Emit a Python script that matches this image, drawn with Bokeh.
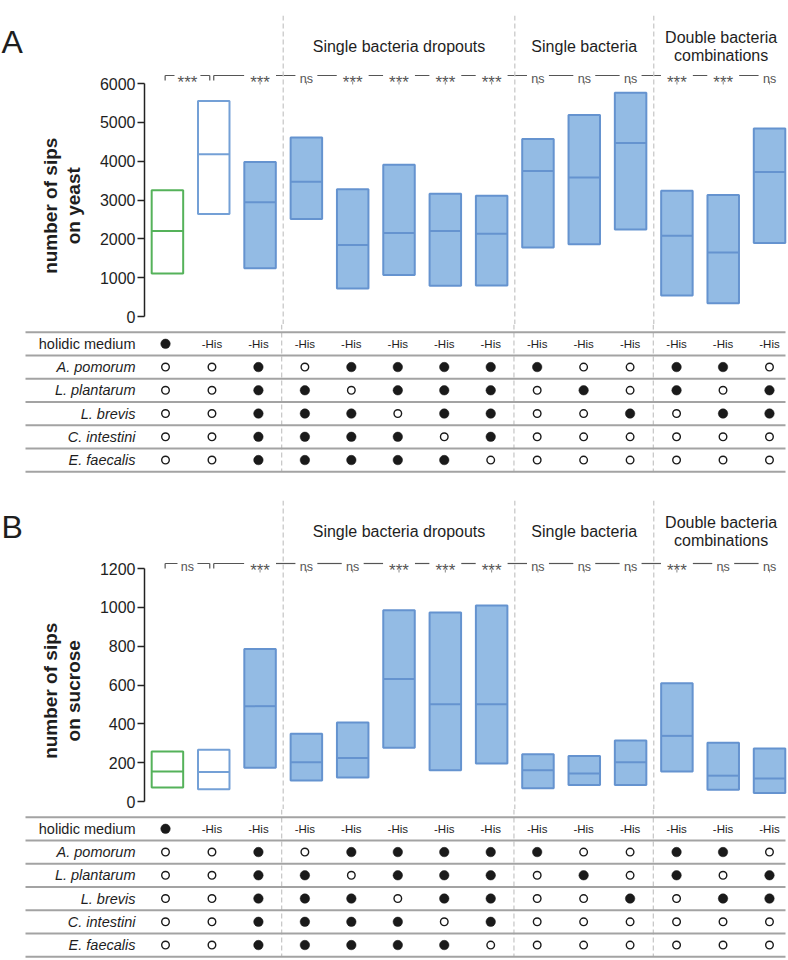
import math
from bokeh.plotting import figure
from bokeh.layouts import column, row
from bokeh.models import Range1d, Span
from bokeh.core.properties import value
from bokeh.embed import file_html
from bokeh.resources import INLINE

FONT = "Liberation Sans"

# ---------------- data ----------------
conditions = list(range(1, 15))
box_kind = ["complete", "minus_his"] + ["bacteria"] * 12

yeast_q1 = [1110, 2640, 1240, 2510, 720, 1070, 790, 800, 1780, 1860, 2240, 540, 340, 1890]
yeast_median = [2200, 4180, 2940, 3470, 1840, 2150, 2200, 2130, 3750, 3580, 4470, 2080, 1650, 3720]
yeast_q3 = [3250, 5550, 3980, 4610, 3280, 3910, 3160, 3110, 4570, 5190, 5760, 3240, 3130, 4840]

sucrose_q1 = [72, 63, 174, 108, 123, 277, 161, 196, 68, 85, 85, 155, 60, 44]
sucrose_median = [155, 152, 491, 202, 224, 631, 501, 501, 161, 144, 202, 338, 133, 119]
sucrose_q3 = [258, 267, 785, 349, 407, 985, 973, 1010, 243, 234, 314, 609, 303, 273]

yeast_ticks = [0, 1000, 2000, 3000, 4000, 5000, 6000]
sucrose_ticks = [0, 200, 400, 600, 800, 1000, 1200]

yeast_sig_bracket = "***"      # column 1 vs column 2
yeast_sig = ["***", "ns", "***", "***", "***", "***", "ns", "ns", "ns", "***", "***", "ns"]   # columns 3..14
sucrose_sig_bracket = "ns"
sucrose_sig = ["***", "ns", "ns", "***", "***", "***", "ns", "ns", "ns", "***", "ns", "ns"]

group_titles = [["Single bacteria dropouts"], ["Single bacteria"], ["Double bacteria", "combinations"]]
group_first_col = [4, 9, 12]
group_last_col = [8, 11, 14]

row_labels = ["holidic medium", "A. pomorum", "L. plantarum", "L. brevis", "C. intestini", "E. faecalis"]
medium = ["complete"] + ["-His"] * 13
presence_a_pomorum = [0, 0, 1, 0, 1, 1, 1, 1, 1, 0, 0, 1, 1, 0]
presence_l_plantarum = [0, 0, 1, 1, 0, 1, 1, 1, 0, 1, 0, 1, 0, 1]
presence_l_brevis = [0, 0, 1, 1, 1, 0, 1, 1, 0, 0, 1, 0, 1, 1]
presence_c_intestini = [0, 0, 1, 1, 1, 1, 0, 1, 0, 0, 0, 0, 0, 0]
presence_e_faecalis = [0, 0, 1, 1, 1, 1, 1, 0, 0, 0, 0, 0, 0, 0]
presence = [presence_a_pomorum, presence_l_plantarum, presence_l_brevis,
            presence_c_intestini, presence_e_faecalis]

# ---------------- layout constants ----------------
W = 788
PX = 46.46                     # pixels per column
COL1 = 165                     # page x of column 1
AXIS_X = 142
LAB_W = 96
X_END = 1 + (W - COL1) / PX
X_PLOT0 = 1 + (AXIS_X - COL1) / PX
X_TAB0 = 1 + (0 - COL1) / PX
BOXW = 0.68
SEPS = [c - 0.5 for c in group_first_col]
PLOT_H = 324
FRAME_TOP = 15
ZERO_Y = 316
TOP_TICK_Y = 83

FILL = {"complete": "white", "minus_his": "white", "bacteria": "#93BBE4"}
EDGE = {"complete": "#55B25A", "minus_his": "#74A0D6", "bacteria": "#6593CF"}
DASH_COLOR = "#c9c9c9"
TXT = "#1e1e1e"
SIG = "#555555"


def clean(p):
    p.grid.visible = False
    p.outline_line_color = None
    p.background_fill_color = "white"
    p.border_fill_color = "white"


def label_fig(letter, ylab):
    f = figure(width=LAB_W, height=PLOT_H, x_range=Range1d(0, LAB_W), y_range=Range1d(PLOT_H, 0),
               output_backend="svg", toolbar_location=None, title=None,
               x_axis_location=None, y_axis_location=None, min_border=0)
    clean(f)
    f.text(x=[1], y=[28], text=[letter], text_font=value(FONT), text_font_size="32px",
           text_color=TXT, text_align="left", text_baseline="alphabetic")
    f.text(x=[50, 72.5], y=[199.5, 199.5], text=ylab, angle=math.pi / 2,
           text_font=value(FONT), text_font_size="19px", text_font_style="bold",
           text_color=TXT, text_align="center", text_baseline="middle")
    return f


def plot_fig(q1, med, q3, ticks, sig_bracket, sig, LY):
    k = (ZERO_Y - TOP_TICK_Y) / ticks[-1]
    p = figure(width=W - LAB_W, height=PLOT_H, x_range=Range1d(X_PLOT0, X_END),
               y_range=Range1d(-(PLOT_H - ZERO_Y) / k, (ZERO_Y - FRAME_TOP) / k),
               output_backend="svg", toolbar_location=None, title=None, x_axis_location=None,
               min_border_left=AXIS_X - LAB_W, min_border_right=0,
               min_border_top=FRAME_TOP, min_border_bottom=0)
    clean(p)
    p.extra_y_ranges = {"scr": Range1d(PLOT_H, FRAME_TOP)}
    ax = p.yaxis[0]
    ax.ticker = ticks
    ax.bounds = (0, ticks[-1])
    ax.major_label_text_font = FONT
    ax.major_label_text_font_size = "16px"
    ax.major_label_text_color = TXT
    ax.major_label_standoff = 2
    ax.major_tick_out = 7
    ax.major_tick_in = 0
    ax.minor_tick_out = 0
    ax.minor_tick_in = 0
    ax.axis_line_width = 1.5
    ax.major_tick_line_width = 1.5
    ax.axis_line_color = "#222222"
    ax.major_tick_line_color = "#222222"

    for s in SEPS:
        p.add_layout(Span(location=s, dimension="height", line_color=DASH_COLOR,
                          line_width=1.3, line_dash="5 3"))

    fills = [FILL[b] for b in box_kind]
    edges = [EDGE[b] for b in box_kind]
    p.vbar(x=conditions, width=BOXW, bottom=q1, top=q3, fill_color=fills,
           line_color=edges, line_width=2)
    p.segment(x0=[c - BOXW / 2 for c in conditions], y0=med,
              x1=[c + BOXW / 2 for c in conditions], y1=med,
              line_color=edges, line_width=2)

    # group titles
    for lines, a, b in zip(group_titles, group_first_col, group_last_col):
        xc = (a - 0.5 + min(b + 0.5, X_END)) / 2
        ys = [46] if len(lines) == 1 else [36.5, 55]
        p.text(x=[xc] * len(lines), y=ys, text=lines, y_range_name="scr",
               text_font=value(FONT), text_font_size="16px", text_color=TXT,
               text_align="center", text_baseline="alphabetic")

    # significance row
    def gap(lbl, main=True):
        if lbl == "***":
            return (16 if main else 13) / PX
        return (11 if main else 10) / PX
    xs0, ys0, xs1, ys1 = [], [], [], []
    def seg(a, b, c, d):
        xs0.append(a); ys0.append(b); xs1.append(c); ys1.append(d)
    xl = 1 - 2.3 / PX
    xr = 2 - 4 / PX
    xm = (xl + xr) / 2
    seg(xl, LY + 5, xl, LY)
    seg(xl, LY, xm - gap(sig_bracket, False), LY)
    seg(xm + gap(sig_bracket, False), LY, xr, LY)
    seg(xr, LY, xr, LY + 5)
    seg(2, LY + 5, 2, LY)
    prev = 2
    sig_cols = conditions[2:]
    for c, lbl in zip(sig_cols, sig):
        seg(prev, LY, c - gap(lbl), LY)
        prev = c + gap(lbl)
    p.segment(x0=xs0, y0=ys0, x1=xs1, y1=ys1, y_range_name="scr",
              line_color=SIG, line_width=1.2)
    p.segment(x0=sig_cols, y0=[LY + 6] * len(sig_cols), x1=sig_cols,
              y1=[LY + 9] * len(sig_cols), y_range_name="scr",
              line_color="#888888", line_width=1)

    all_x = [xm] + sig_cols
    all_l = [sig_bracket] + sig
    sx = [x for x, l in zip(all_x, all_l) if l == "***"]
    nx = [x for x, l in zip(all_x, all_l) if l != "***"]
    if sx:
        p.text(x=sx, y=[LY + 6.5] * len(sx), text=["***"] * len(sx), y_range_name="scr",
               text_font=value(FONT), text_font_size="17px", text_color=SIG,
               text_align="center", text_baseline="alphabetic")
    if nx:
        p.text(x=nx, y=[LY + 3.3] * len(nx), text=["ns"] * len(nx), y_range_name="scr",
               text_font=value(FONT), text_font_size="12.5px", text_color=SIG,
               text_align="center", text_baseline="alphabetic")
    return p


def table_fig(h):
    t = figure(width=W, height=h, x_range=Range1d(X_TAB0, X_END), y_range=Range1d(h, 0),
               output_backend="svg", toolbar_location=None, title=None,
               x_axis_location=None, y_axis_location=None, min_border=0)
    clean(t)
    pitch = 23.25
    row_y = [19.3 + pitch * r for r in range(len(row_labels))]
    line_y = [7.7 + pitch * r for r in range(len(row_labels) + 1)]
    t.segment(x0=SEPS, y0=[0] * len(SEPS), x1=SEPS, y1=[line_y[-1]] * len(SEPS),
              line_color=DASH_COLOR, line_width=1.3, line_dash="5 3")
    x_left = 1 + (25 - COL1) / PX
    x_right = 1 + (785 - COL1) / PX
    t.segment(x0=[x_left] * len(line_y), y0=line_y, x1=[x_right] * len(line_y), y1=line_y,
              line_color="#a3a3a3", line_width=2)
    lx = 1 + (135 - COL1) / PX
    t.text(x=[lx], y=[row_y[0]], text=[row_labels[0]], text_font=value(FONT),
           text_font_size="14.5px", text_color=TXT, text_align="right", text_baseline="middle")
    t.text(x=[lx] * 5, y=row_y[1:], text=row_labels[1:], text_font=value(FONT),
           text_font_size="14.5px", text_font_style="italic", text_color=TXT,
           text_align="right", text_baseline="middle")
    # medium row
    cx = [c for c, m in zip(conditions, medium) if m == "complete"]
    hx = [c for c, m in zip(conditions, medium) if m != "complete"]
    t.scatter(x=cx, y=[row_y[0]] * len(cx), size=9.5, marker="circle",
              fill_color="#1a1a1a", line_color="#1a1a1a", line_width=0.5)
    t.text(x=hx, y=[row_y[0]] * len(hx), text=[medium[c - 1] for c in hx],
           text_font=value(FONT), text_font_size="11.5px", text_color=TXT,
           text_align="center", text_baseline="middle")
    fx, fy, ox, oy = [], [], [], []
    for r, pres in enumerate(presence):
        for c, v in zip(conditions, pres):
            if v:
                fx.append(c); fy.append(row_y[r + 1])
            else:
                ox.append(c); oy.append(row_y[r + 1])
    t.scatter(x=fx, y=fy, size=9.5, marker="circle", fill_color="#1a1a1a",
              line_color="#1a1a1a", line_width=0.5)
    t.scatter(x=ox, y=oy, size=7.6, marker="circle", fill_color="white",
              line_color="#1a1a1a", line_width=1.4)
    return t


panel_a = row(label_fig("A", ["number of sips", "on yeast"]),
              plot_fig(yeast_q1, yeast_median, yeast_q3, yeast_ticks,
                       yeast_sig_bracket, yeast_sig, 75))
panel_b = row(label_fig("B", ["number of sips", "on sucrose"]),
              plot_fig(sucrose_q1, sucrose_median, sucrose_q3, sucrose_ticks,
                       sucrose_sig_bracket, sucrose_sig, 78))

layout = column(panel_a, table_fig(161), panel_b, table_fig(151))

open("out.html", "w").write(file_html(layout, INLINE))
